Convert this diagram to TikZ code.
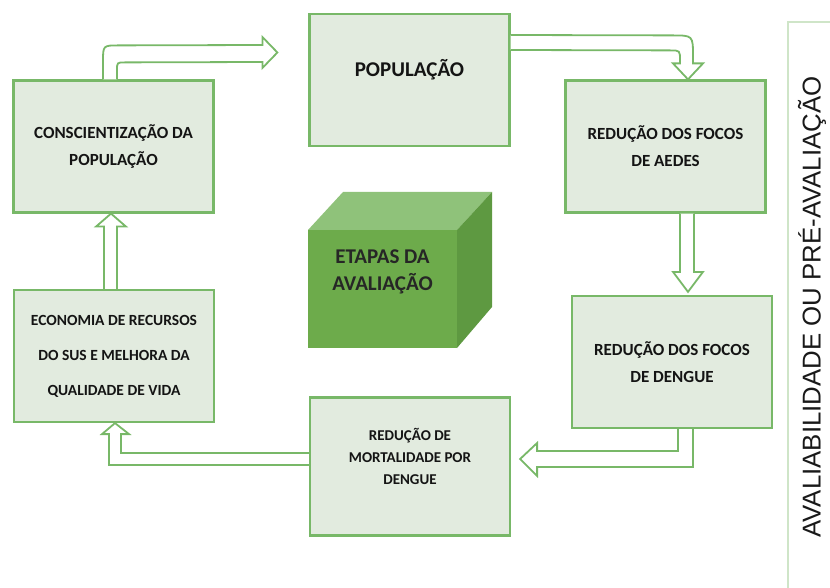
\documentclass[tikz,border=0pt]{standalone}
\usepackage{fontspec}
\setmainfont{Carlito}
\newfontfamily\sidefont{Liberation Sans}
\usetikzlibrary{calc}

\definecolor{stagegreen}{HTML}{78B868}
\definecolor{stagefill}{HTML}{E2EBDF}
\definecolor{cubefront}{HTML}{6DAB4B}
\definecolor{cubetop}{HTML}{8FC27A}
\definecolor{cubeside}{HTML}{5E9941}
\definecolor{sidegreen}{HTML}{CFE5C8}

\begin{document}
\begin{tikzpicture}
[x=1pt,y=-1pt,
  stage/.style={shape=rectangle,draw=stagegreen,line width=2.2pt,fill=stagefill,
    minimum width=200pt,minimum height=132pt,align=center,text=black!92},
  bigtext/.style={font=\fontsize{17}{27}\selectfont\bfseries},
  smalltext/.style={font=\fontsize{15}{22}\selectfont\bfseries},
  hollow/.style={draw=stagegreen,line width=1.8pt,fill=white}]

\useasboundingbox (0,0) rectangle (830,588);

% stages
\node (consc) [stage,bigtext] at (113.5,146.5) {CONSCIENTIZAÇÃO DA\\POPULAÇÃO};
\node (popul) [stage,font=\fontsize{21}{27}\selectfont\bfseries,text depth=24pt] at (409.5,80) {POPULAÇÃO};
\node (aedes) [stage,bigtext] at (665.5,146.5) {REDUÇÃO DOS FOCOS\\DE AEDES};
\node (dengue) [stage,bigtext] at (672,362) {REDUÇÃO DOS FOCOS\\DE DENGUE};
\node (mortal) [stage,smalltext,minimum height=138pt,text depth=21pt] at (410,466.5) {REDUÇÃO DE\\MORTALIDADE POR\\DENGUE};
\node (econ) [stage,font=\fontsize{15.5}{35}\selectfont\bfseries] at (114,356) {ECONOMIA DE RECURSOS\\DO SUS E MELHORA DA\\QUALIDADE DE VIDA};

% cube
\node (etapas) [shape=rectangle,fill=cubefront,outer sep=0pt,inner sep=0pt,
  minimum width=149pt,minimum height=118pt,align=center,text=black!85,
  font=\fontsize{21}{27}\selectfont\bfseries,text depth=37pt] at (382.5,289) {ETAPAS DA\\AVALIAÇÃO};
\fill[cubetop] (etapas.north west) -- ++(35,-38) -- ($(etapas.north east)+(35,-38)$) -- (etapas.north east) -- cycle;
\fill[cubeside] (etapas.north east) -- ++(35,-38) -- ($(etapas.south east)+(35,-41)$) -- (etapas.south east) -- cycle;

% arrows
\draw[hollow] ($(consc.north)+(-10.5,0)$) -- ($(consc.north)+(-10.5,-18)$)
  .. controls ($(consc.north)+(-10.5,-34)$) .. ($(consc.north)+(5.5,-34)$)
  -- ($(popul.west)+(-46,-35)$) -- ($(popul.west)+(-46,-43)$)
  -- ($(popul.west)+(-31,-27.5)$) -- ($(popul.west)+(-46,-12)$)
  -- ($(popul.west)+(-46,-18)$) -- ($(consc.north)+(11.5,-17)$)
  .. controls ($(consc.north)+(3.5,-17)$) .. ($(consc.north)+(3.5,-9)$)
  -- ($(consc.north)+(3.5,0)$);
\draw[hollow] ($(popul.east)+(0,-45)$) -- ($(aedes.north)+(6.5,-44)$)
  .. controls ($(aedes.north)+(27.5,-44)$) .. ($(aedes.north)+(27.5,-23)$)
  -- ($(aedes.north)+(27.5,-16)$) -- ($(aedes.north)+(37.5,-16)$)
  -- ($(aedes.north)+(22.5,0)$) -- ($(aedes.north)+(7.5,-16)$)
  -- ($(aedes.north)+(14.5,-16)$) -- ($(aedes.north)+(14.5,-19)$)
  .. controls ($(aedes.north)+(14.5,-29)$) .. ($(aedes.north)+(4.5,-29)$)
  -- ($(popul.east)+(0,-30)$);
\draw[hollow] ($(aedes.south)+(14.5,0)$) -- ($(dengue.north)+(8,-23)$)
  -- ($(dengue.north)+(1,-23)$) -- ($(dengue.north)+(16,-3)$)
  -- ($(dengue.north)+(31,-23)$) -- ($(dengue.north)+(22,-23)$)
  -- ($(aedes.south)+(28.5,0)$);
\draw[hollow] ($(dengue.south)+(6,0)$) |- ($(mortal.east)+(26,-15.5)$)
  -- ($(mortal.east)+(26,-23.5)$) -- ($(mortal.east)+(9,-7.5)$)
  -- ($(mortal.east)+(26,9.5)$) -- ($(mortal.east)+(26,0.5)$)
  -| ($(dengue.south)+(21,0)$);
\draw[hollow] ($(mortal.west)+(0,-13.5)$) -| ($(econ.south)+(7,11)$)
  -- ($(econ.south)+(15,11)$) -- ($(econ.south)+(1,0)$)
  -- ($(econ.south)+(-12,11)$) -- ($(econ.south)+(-5,11)$)
  |- ($(mortal.west)+(0,-1.5)$);
\draw[hollow] ($(econ.north)+(-10,0)$) -- ($(consc.south)+(-9.5,13)$)
  -- ($(consc.south)+(-17.5,13)$) -- ($(consc.south)+(-2.5,0)$)
  -- ($(consc.south)+(12.5,13)$) -- ($(consc.south)+(3.5,13)$)
  -- ($(econ.north)+(3,0)$);

% side panel
\draw[sidegreen,line width=1.2pt] (830,22) -| (788,588);
\node (side) [rotate=90,font=\sidefont\fontsize{25.8}{30}\selectfont,text=black!90] at (812,307) {AVALIABILIDADE OU PRÉ-AVALIAÇÃO};
\end{tikzpicture}
\end{document}
